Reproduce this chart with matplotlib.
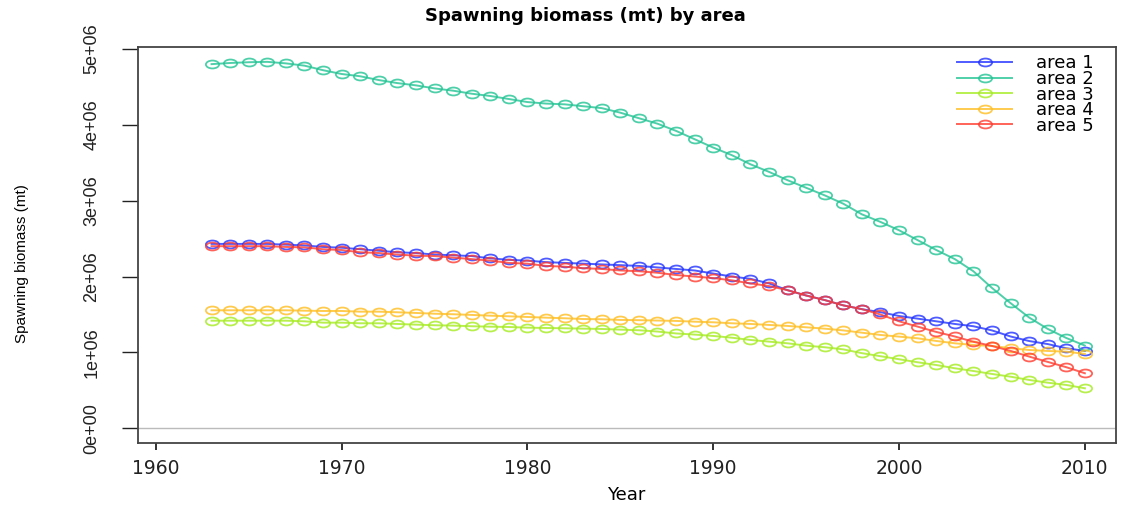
import numpy as np
import matplotlib
matplotlib.use("Agg")
import matplotlib.pyplot as plt
from matplotlib.path import Path
from matplotlib.transforms import Affine2D

years = np.arange(1963, 2011)

# spawning biomass by area (millions of mt)
area1 = [2.43, 2.43, 2.43, 2.43, 2.42, 2.41, 2.39, 2.38, 2.36, 2.34, 2.32, 2.31,
         2.29, 2.28, 2.27, 2.24, 2.22, 2.21, 2.19, 2.18, 2.17, 2.16, 2.15, 2.14,
         2.12, 2.10, 2.08, 2.04, 2.00, 1.97, 1.91, 1.82, 1.75, 1.69, 1.62, 1.57,
         1.53, 1.48, 1.445, 1.41, 1.375, 1.345, 1.29, 1.21, 1.15, 1.11, 1.055, 1.02]
area2 = [4.80, 4.815, 4.825, 4.83, 4.81, 4.78, 4.72, 4.67, 4.64, 4.59, 4.55, 4.52,
         4.48, 4.45, 4.41, 4.38, 4.34, 4.30, 4.28, 4.27, 4.245, 4.22, 4.16, 4.087,
         4.015, 3.92, 3.81, 3.70, 3.60, 3.48, 3.38, 3.27, 3.17, 3.07, 2.96, 2.82,
         2.72, 2.61, 2.48, 2.35, 2.23, 2.07, 1.85, 1.65, 1.46, 1.31, 1.19, 1.09]
area3 = [1.418, 1.418, 1.418, 1.418, 1.418, 1.41, 1.392, 1.392, 1.384, 1.384, 1.375, 1.366,
         1.358, 1.353, 1.345, 1.339, 1.335, 1.326, 1.322, 1.318, 1.313, 1.309, 1.30, 1.292,
         1.275, 1.25, 1.235, 1.217, 1.194, 1.164, 1.142, 1.12, 1.089, 1.068, 1.04, 0.99,
         0.95, 0.91, 0.87, 0.834, 0.791, 0.755, 0.716, 0.68, 0.637, 0.601, 0.571, 0.527]
area4 = [1.555, 1.555, 1.555, 1.555, 1.555, 1.55, 1.546, 1.546, 1.537, 1.537, 1.529, 1.52,
         1.51, 1.503, 1.494, 1.484, 1.476, 1.467, 1.458, 1.45, 1.44, 1.437, 1.428, 1.425,
         1.42, 1.415, 1.405, 1.397, 1.384, 1.375, 1.362, 1.349, 1.331, 1.313, 1.29, 1.26,
         1.23, 1.208, 1.186, 1.151, 1.12, 1.098, 1.085, 1.055, 1.032, 1.019, 1.01, 0.98]
area5 = [2.40, 2.40, 2.40, 2.40, 2.39, 2.385, 2.36, 2.35, 2.32, 2.31, 2.29, 2.275,
         2.27, 2.25, 2.23, 2.21, 2.18, 2.17, 2.14, 2.13, 2.11, 2.10, 2.08, 2.07,
         2.05, 2.02, 2.00, 1.98, 1.95, 1.91, 1.875, 1.82, 1.75, 1.69, 1.62, 1.57,
         1.50, 1.41, 1.34, 1.27, 1.21, 1.14, 1.085, 1.02, 0.945, 0.875, 0.805, 0.725]

labels = ["area 1", "area 2", "area 3", "area 4", "area 5"]
colors = ["#2233FF", "#22C494", "#A6EC22", "#FFBE22", "#FF3B2E"]

# open "circle" markers look a bit squashed on this device
oval = Path.unit_circle().transformed(Affine2D().scale(1.0, 0.6))

fig = plt.figure(figsize=(11.21, 5.09), dpi=100)
ax = fig.add_axes([0.1234, 0.1303, 0.8722, 0.7774])

for vals, lab, col in zip([area1, area2, area3, area4, area5], labels, colors):
    ax.plot(years, np.array(vals) * 1e6, color=col, alpha=0.8, lw=1.4,
            marker=oval, markersize=9.5, markerfacecolor="none",
            markeredgewidth=1.3, label=lab)

ax.axhline(0, color="#bbbbbb", lw=1)

ax.set_xlim(1959.06, 2011.68)
ax.set_ylim(-0.19e6, 5.026e6)
ax.set_xticks([1960, 1970, 1980, 1990, 2000, 2010])
ax.set_yticks([0, 1e6, 2e6, 3e6, 4e6, 5e6])
ax.set_yticklabels(["0e+00", "1e+06", "2e+06", "3e+06", "4e+06", "5e+06"],
                   rotation=90, va="center", fontsize=13, family="Liberation Sans")
ax.tick_params(axis="x", length=5, width=1.3, pad=7, labelsize=13.5, colors="#222222")
ax.tick_params(axis="y", length=11.5, width=1.0, pad=16, colors="#222222")
for s in ax.spines.values():
    s.set_linewidth(1.3)
    s.set_color("#444444")

fig.text(0.559, 0.027, "Year", ha="center", va="center", fontsize=13)
fig.text(0.020, 0.483, "Spawning biomass (mt)", rotation=90, ha="center", va="center",
         fontsize=11, family="Liberation Sans")
fig.text(0.522, 0.968, "Spawning biomass (mt) by area", ha="center", va="center",
         fontsize=13, fontweight="bold")

ax.legend(loc="upper right", frameon=False, fontsize=13, handlelength=3.05,
          handletextpad=1.33, labelspacing=-0.13, borderaxespad=0.0,
          bbox_to_anchor=(0.985, 1.0))

fig.savefig("out.png", dpi=100)
